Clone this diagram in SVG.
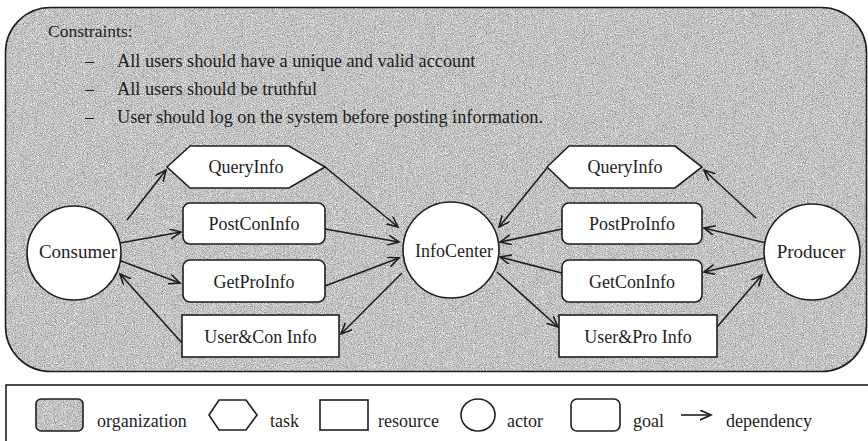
<svg xmlns="http://www.w3.org/2000/svg" width="868" height="441" viewBox="0 0 868 441">
  <style>
    text { font-family: "Liberation Serif", "Times New Roman", serif; fill: #1e1e1e; }
    .lbl { font-size: 18px; text-anchor: middle; }
    .actor-lbl { font-size: 19px; text-anchor: middle; }
    .note { font-size: 18px; }
    .node { fill: #ffffff; stroke: #1e1e1e; stroke-width: 1.6; }
    .dep { fill: none; stroke: #1e1e1e; stroke-width: 1.6; marker-end: url(#arrow); }
    .frame { fill: none; stroke: #1e1e1e; stroke-width: 1.6; }
  </style>
  <defs>
    <!-- open V arrowhead for dependencies -->
    <marker id="arrow" markerUnits="userSpaceOnUse" markerWidth="14" markerHeight="12" refX="11" refY="5" orient="auto">
      <path d="M0,0 L11,5 L0,10" fill="none" stroke="#1e1e1e" stroke-width="1.6"/>
    </marker>
    <!-- speckled grey shading used for the organization area -->
    <filter id="speckle" x="0" y="0" width="100%" height="100%" color-interpolation-filters="sRGB">
      <feTurbulence type="fractalNoise" baseFrequency="1.1" numOctaves="2" seed="7" result="noise"/>
      <feColorMatrix in="noise" type="matrix" values="0.33 0.33 0.33 0 0  0.33 0.33 0.33 0 0  0.33 0.33 0.33 0 0  0 0 0 0 1" result="grey"/>
      <feComponentTransfer in="grey" result="tone">
        <feFuncR type="linear" slope="1.2" intercept="0.17"/>
        <feFuncG type="linear" slope="1.2" intercept="0.17"/>
        <feFuncB type="linear" slope="1.2" intercept="0.17"/>
      </feComponentTransfer>
      <feComposite in="tone" in2="SourceGraphic" operator="in"/>
    </filter>
  </defs>

  <rect width="868" height="441" fill="#ffffff"/>

  <!-- organization area -->
  <g id="organization">
    <rect x="5.5" y="7.5" width="861" height="364" rx="45" ry="45" fill="#b8b8b8" filter="url(#speckle)"/>
    <rect x="5.5" y="7.5" width="861" height="364" rx="45" ry="45" class="frame"/>
  </g>

  <!-- constraints note -->
  <g id="constraints">
    <text x="48" y="37" style="font-size:17.5px">Constraints:</text>
    <text x="85" y="67" class="note">–</text>
    <text x="117" y="67" class="note" style="font-size:18.3px">All users should have a unique and valid account</text>
    <text x="85" y="95" class="note">–</text>
    <text x="117" y="95" class="note" style="font-size:18.3px">All users should be truthful</text>
    <text x="85" y="123" class="note">–</text>
    <text x="117" y="123" class="note" style="font-size:18.3px">User should log on the system before posting information.</text>
  </g>

  <!-- dependencies -->
  <g id="connectors">
    <line class="dep" x1="127" y1="220" x2="166" y2="170"/>
    <line class="dep" x1="325" y1="167" x2="398" y2="227"/>
    <line class="dep" x1="120" y1="243" x2="181" y2="232"/>
    <line class="dep" x1="325" y1="229" x2="399" y2="242"/>
    <line class="dep" x1="121" y1="261" x2="180" y2="283"/>
    <line class="dep" x1="325" y1="286" x2="399" y2="258"/>
    <line class="dep" x1="402" y1="273" x2="341" y2="334"/>
    <line class="dep" x1="182" y1="343" x2="120" y2="274"/>

    <line class="dep" x1="547" y1="168" x2="499" y2="227"/>
    <line class="dep" x1="756" y1="218" x2="704" y2="170"/>
    <line class="dep" x1="562" y1="229" x2="500" y2="242"/>
    <line class="dep" x1="766" y1="243" x2="704" y2="228"/>
    <line class="dep" x1="562" y1="273" x2="500" y2="257"/>
    <line class="dep" x1="765" y1="258" x2="704" y2="272"/>
    <line class="dep" x1="497" y1="272" x2="558" y2="327"/>
    <line class="dep" x1="717" y1="327" x2="762" y2="275"/>
  </g>

  <!-- actors -->
  <g id="consumer">
    <circle class="node" cx="74" cy="253" r="47"/>
    <text x="78" y="258" class="actor-lbl">Consumer</text>
  </g>
  <g id="infocenter">
    <circle class="node" cx="451" cy="250" r="48"/>
    <text x="454" y="257" class="lbl">InfoCenter</text>
  </g>
  <g id="producer">
    <circle class="node" cx="812" cy="252" r="48"/>
    <text x="811" y="258" class="actor-lbl">Producer</text>
  </g>

  <!-- consumer side -->
  <g id="query-info-consumer">
    <polygon class="node" points="167,167 190,146 289,146 325,167 289,188 190,188"/>
    <text x="246" y="173" class="lbl">QueryInfo</text>
  </g>
  <g id="post-con-info">
    <rect class="node" x="183" y="203" width="142" height="41" rx="7"/>
    <text x="254" y="230" class="lbl">PostConInfo</text>
  </g>
  <g id="get-pro-info">
    <rect class="node" x="183" y="260" width="142" height="42" rx="7"/>
    <text x="254" y="288" class="lbl">GetProInfo</text>
  </g>
  <g id="user-con-info">
    <rect class="node" x="182" y="315" width="157" height="42"/>
    <text x="260.5" y="343" class="lbl">User&amp;Con Info</text>
  </g>

  <!-- producer side -->
  <g id="query-info-producer">
    <polygon class="node" points="547,167 569,146 675,146 702,167 675,188 569,188"/>
    <text x="625" y="173" class="lbl">QueryInfo</text>
  </g>
  <g id="post-pro-info">
    <rect class="node" x="562" y="203" width="140" height="41" rx="7"/>
    <text x="632" y="230" class="lbl">PostProInfo</text>
  </g>
  <g id="get-con-info">
    <rect class="node" x="562" y="260" width="140" height="42" rx="7"/>
    <text x="632" y="288" class="lbl">GetConInfo</text>
  </g>
  <g id="user-pro-info">
    <rect class="node" x="559" y="315" width="158" height="42"/>
    <text x="638" y="343" class="lbl">User&amp;Pro Info</text>
  </g>

  <!-- legend -->
  <g id="legend">
    <rect x="6" y="385" width="870" height="70" class="frame"/>
    <rect x="36" y="399" width="47" height="32" rx="5" fill="#b8b8b8" filter="url(#speckle)"/>
    <rect x="36" y="399" width="47" height="32" rx="5" class="frame"/>
    <text x="97" y="427" class="note">organization</text>
    <polygon points="209,415 219,400 246,400 257,415 246,430 219,430" class="frame"/>
    <text x="270" y="427" class="note">task</text>
    <rect x="320" y="400" width="48" height="30" class="frame"/>
    <text x="378" y="427" class="note">resource</text>
    <ellipse cx="478" cy="415" rx="17" ry="16" class="frame"/>
    <text x="507" y="427" class="note">actor</text>
    <rect x="571" y="399" width="49" height="32" rx="6" class="frame"/>
    <text x="633" y="427" class="note">goal</text>
    <line x1="681" y1="415" x2="711" y2="415" class="dep"/>
    <text x="726" y="427" class="note">dependency</text>
  </g>
</svg>
